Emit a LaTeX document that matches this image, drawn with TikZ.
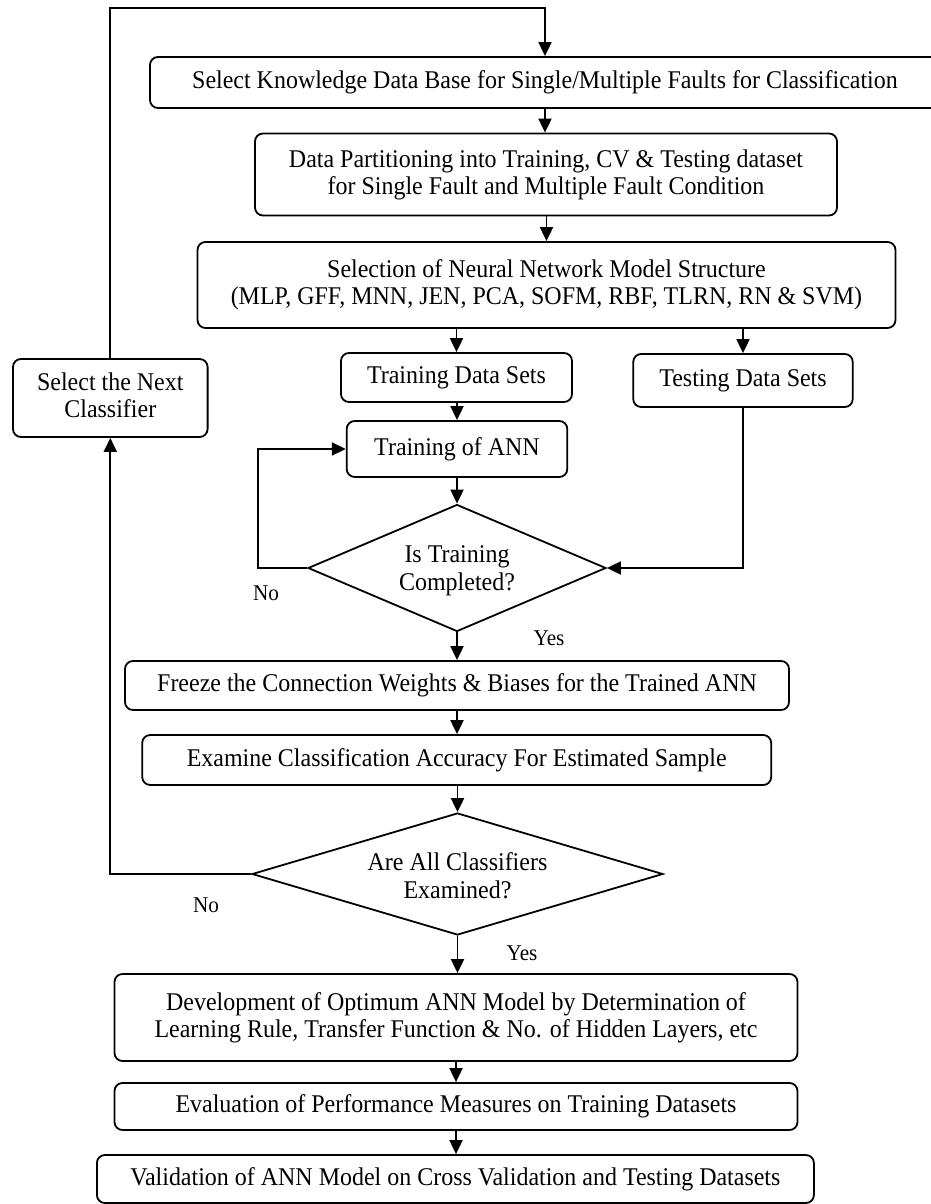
\documentclass[tikz,border=0pt]{standalone}
\usepackage{fontspec}
\setmainfont[FakeStretch=0.94]{Liberation Serif}
\usetikzlibrary{shapes.geometric,arrows.meta,calc}
\begin{document}
\begin{tikzpicture}[x=1pt,y=-1pt,
  box/.style={draw,line width=1.8pt,rounded corners=8pt,inner sep=0pt,align=center,
    font=\fontsize{25.5}{27}\selectfont,
    execute at begin node={\rule[-5.6pt]{0pt}{24pt}},
    execute at end node={\rule[-5.6pt]{0pt}{0pt}}},
  dia/.style={draw,diamond,line width=1.8pt,inner sep=0pt},
  txt/.style={align=center,inner sep=0pt,font=\fontsize{25.5}{28}\selectfont,
    execute at begin node={\rule[-5.6pt]{0pt}{24pt}},
    execute at end node={\rule[-5.6pt]{0pt}{0pt}}},
  lbl/.style={inner sep=0pt,font=\fontsize{22.5}{24}\selectfont},
  arr/.style={line width=1.9pt,-{Triangle[length=14pt,width=13pt]}}]
\useasboundingbox (0,0) rectangle (930,1204);
% boxes
\node[box,minimum width=790pt,minimum height=51pt] (b1) at (545,82.5) {Select Knowledge Data Base for Single/Multiple Faults for Classification};
\node[box,minimum width=582pt,minimum height=82pt] (b2) at (546,174.5) {Data Partitioning into Training, CV \& Testing dataset\\for Single Fault and Multiple Fault Condition};
\node[box,minimum width=698pt,minimum height=86pt] (b3) at (546.5,285) {Selection of Neural Network Model Structure\\(MLP, GFF, MNN, JEN, PCA, SOFM, RBF, TLRN, RN \& SVM)};
\node[box,minimum width=231pt,minimum height=49pt] (train) at (456.5,377.5) {Training Data Sets};
\node[box,minimum width=219.5pt,minimum height=53pt] (test) at (743,380.5) {Testing Data Sets};
\node[box,minimum width=194.6pt,minimum height=78pt] (next) at (110.3,398) {Select the Next\\Classifier};
\node[box,minimum width=220.6pt,minimum height=56pt] (tann) at (457,449) {Training of ANN};
\node[dia,minimum width=298pt,minimum height=127pt] (d1) at (457,568) {};
\node[txt] (d1t) at (457,571) {Is Training\\Completed?};
\node[box,minimum width=664pt,minimum height=49pt] (freeze) at (457,685.5) {Freeze the Connection Weights \& Biases for the Trained ANN};
\node[box,minimum width=629pt,minimum height=50pt] (exam) at (456.7,760) {Examine Classification Accuracy For Estimated Sample};
\node[dia,minimum width=411pt,minimum height=122pt] (d2) at (457.5,874) {};
\node[txt] (d2t) at (457.5,878) {Are All Classifiers\\Examined?};
\node[box,minimum width=683pt,minimum height=87pt] (dev) at (456,1017.5) {Development of Optimum ANN Model by Determination of\\Learning Rule, Transfer Function \& No. of Hidden Layers, etc};
\node[box,minimum width=683pt,minimum height=47pt] (eval) at (456,1106.5) {Evaluation of Performance Measures on Training Datasets};
\node[box,minimum width=717pt,minimum height=48pt] (valid) at (455.4,1179) {Validation of ANN Model on Cross Validation and Testing Datasets};
% labels
\node[lbl] (no1) at (266,593) {No};
\node[lbl] (yes1) at (549,638) {Yes};
\node[lbl] (no2) at (206,905) {No};
\node[lbl] (yes2) at (522,953) {Yes};
% connectors
\coordinate (top) at (545,8);
\draw[arr] (next.north) |- (top) -- (b1.north);
\draw[arr] (b1.south) -- (b2.north -| b1.south);
\draw[arr] (b2.south -| b3.north) -- (b3.north);
\draw[arr] (train.north |- b3.south) -- (train.north);
\draw[arr] (test.north |- b3.south) -- (test.north);
\draw[arr] (tann.north |- train.south) -- (tann.north);
\draw[arr] (tann.south) -- (d1.north);
\draw[arr] (test.south) |- (d1.east);
\draw[arr] (d1.west) -- ++(-49,0) |- (tann.west);
\draw[arr] (d1.south) -- (freeze.north -| d1.south);
\draw[arr] (freeze.south) -- (exam.north -| freeze.south);
\draw[arr] (exam.south -| d2.north) -- (d2.north);
\draw[arr] (d2.west) -| (next.south);
\draw[arr] (d2.south) -- (dev.north -| d2.south);
\draw[arr] (dev.south) -- (eval.north);
\draw[arr] (eval.south) -- (valid.north -| eval.south);
\end{tikzpicture}
\end{document}
